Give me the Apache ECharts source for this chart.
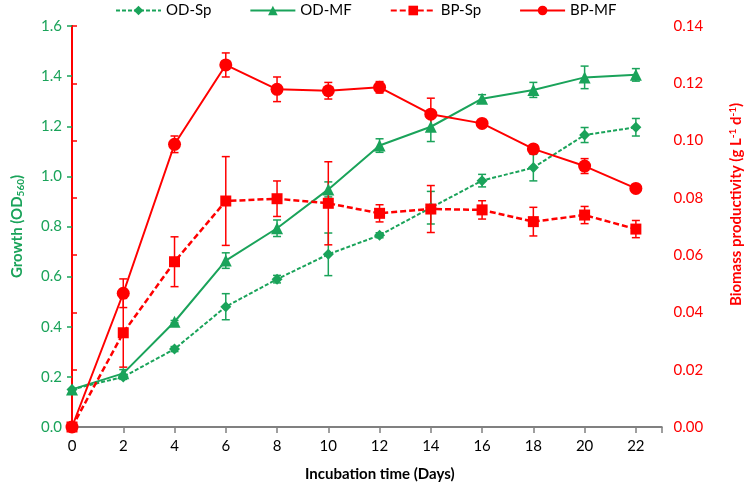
<!DOCTYPE html>
<html><head><meta charset="utf-8">
<script src="https://cdn.jsdelivr.net/npm/echarts@6/dist/echarts.min.js"></script>
<style>html,body{margin:0;padding:0;background:#fff}#c{width:752px;height:496px}</style>
</head><body><div id="c"></div>
<script>
const days = [0,2,4,6,8,10,12,14,16,18,20,22];
const odSp = [0.15,0.20,0.311,0.48,0.59,0.689,0.765,0.875,0.983,1.035,1.165,1.196];
const odSpErr = [0,0.01,0.01,0.052,0.015,0.085,0.01,0.065,0.025,0.053,0.03,0.035];
const odMf = [0.15,0.214,0.42,0.664,0.793,0.948,1.123,1.198,1.31,1.345,1.395,1.405];
const odMfErr = [0,0.015,0.005,0.031,0.033,0.03,0.027,0.059,0.016,0.03,0.045,0.025];
const bpSp = [0,0.0329,0.0577,0.0789,0.0797,0.0781,0.0746,0.0761,0.0758,0.0717,0.074,0.0691];
const bpSpErr = [0,0.012,0.0087,0.0155,0.0062,0.0145,0.003,0.0082,0.0032,0.005,0.003,0.003];
const bpMf = [0,0.0467,0.0987,0.1264,0.1179,0.1174,0.1186,0.1092,0.106,0.0971,0.0911,0.0833];
const bpMfErr = [0,0.005,0.0029,0.0042,0.0043,0.0029,0.002,0.0056,0,0.0012,0.0026,0];

const GREEN = '#1aa35a', RED = '#ff0000';
const FONT = 'Lato';

function pts(v){ return days.map((d,i)=>[d, v[i]]); }
function errPts(v,e){ return days.map((d,i)=>[d, v[i]-e[i], v[i]+e[i]]).filter((p,i)=>e[i]>0); }
function errSeries(name, v, e, color, yi){
  return {
    type:'custom', name:name, yAxisIndex:yi, z:3,
    data: errPts(v,e),
    encode:{x:0, y:[1,2]},
    renderItem:function(params, api){
      const x=api.value(0), lo=api.value(1), hi=api.value(2);
      const a=api.coord([x,lo]), b=api.coord([x,hi]); const w=4;
      const st={stroke:color, lineWidth:1.5};
      return {type:'group', children:[
        {type:'line', shape:{x1:a[0],y1:a[1],x2:b[0],y2:b[1]}, style:st},
        {type:'line', shape:{x1:a[0]-w,y1:a[1],x2:a[0]+w,y2:a[1]}, style:st},
        {type:'line', shape:{x1:b[0]-w,y1:b[1],x2:b[0]+w,y2:b[1]}, style:st}
      ]};
    },
    silent:true
  };
}

const chart = echarts.init(document.getElementById('c'));
chart.setOption({
  animation:false,
  textStyle:{fontFamily:FONT},
  legend:{
    top:-2, left:110, itemWidth:45, itemHeight:12, itemGap:38,
    data:['OD-Sp','OD-MF','BP-Sp','BP-MF'],
    textStyle:{fontFamily:FONT, fontSize:15, color:'#000'}
  },
  grid:{left:72, right:90, top:26, bottom:69, containLabel:false},
  xAxis:[{
    type:'value', min:0, max:23, interval:2,
    axisLine:{show:true, lineStyle:{color:'#808080', width:2}},
    axisTick:{show:true, length:6, lineStyle:{color:'#808080', width:1.5}},
    axisLabel:{color:'#000', fontSize:15, margin:12, fontFamily:FONT,
      formatter:function(v){ return v===23 ? '' : String(v); }},
    splitLine:{show:false},
    name:'Incubation time (Days)', nameLocation:'middle', nameGap:40,
    nameTextStyle:{fontWeight:'bold', fontSize:15, color:'#000', fontFamily:FONT, padding:[0,0,0,26]}
  },{
    type:'value', position:'top', min:0, max:23,
    axisLine:{show:true, lineStyle:{color:'#808080', width:2}},
    axisTick:{show:false}, axisLabel:{show:false}, splitLine:{show:false}
  }],
  yAxis:[{
    type:'value', min:0, max:1.6, interval:0.2, position:'left',
    axisLine:{show:true, lineStyle:{color:GREEN, width:2}},
    axisTick:{show:true, length:5, lineStyle:{color:GREEN, width:1.5}},
    axisLabel:{color:GREEN, fontSize:15, margin:10, fontFamily:FONT,
      formatter:function(v){ return v.toFixed(1); }},
    splitLine:{show:false},
    name:'{a|Growth (OD}{s|560}{a|)}', nameLocation:'middle', nameGap:46, nameRotate:90,
    nameTextStyle:{rich:{
      a:{fontWeight:'bold', fontSize:15, color:GREEN, fontFamily:FONT, lineHeight:18},
      s:{fontWeight:'bold', fontSize:10, color:GREEN, fontFamily:FONT, lineHeight:18, verticalAlign:'bottom', padding:[6,0,0,0]}
    }}
  },{
    type:'value', min:0, max:0.14, interval:0.02, position:'right',
    axisLine:{show:true, lineStyle:{color:RED, width:2}},
    axisTick:{show:true, length:5, lineStyle:{color:RED, width:1.5}},
    axisLabel:{color:RED, fontSize:15, margin:12, fontFamily:FONT,
      formatter:function(v){ return v.toFixed(2); }},
    splitLine:{show:false},
    name:'{a|Biomass productivity (g L}{p|-1}{a| d}{p|-1}{a|)}', nameLocation:'middle', nameGap:66, nameRotate:90,
    nameTextStyle:{padding:[0,0,0,44], rich:{
      a:{fontWeight:'bold', fontSize:15, color:RED, fontFamily:FONT, lineHeight:18},
      p:{fontWeight:'bold', fontSize:10, color:RED, fontFamily:FONT, lineHeight:18, verticalAlign:'top', padding:[0,0,6,0]}
    }}
  }],
  series:[
    errSeries('e1', odSp, odSpErr, GREEN, 0),
    errSeries('e2', odMf, odMfErr, GREEN, 0),
    errSeries('e3', bpSp, bpSpErr, RED, 1),
    errSeries('e4', bpMf, bpMfErr, RED, 1),
    {name:'OD-Sp', type:'line', yAxisIndex:0, data:pts(odSp), symbol:'diamond', symbolSize:11,
      lineStyle:{color:GREEN, width:2, type:[4,2]}, itemStyle:{color:GREEN}, z:4},
    {name:'OD-MF', type:'line', yAxisIndex:0, data:pts(odMf), symbol:'triangle', symbolSize:12,
      lineStyle:{color:GREEN, width:2}, itemStyle:{color:GREEN}, z:4},
    {name:'BP-Sp', type:'line', yAxisIndex:1, data:pts(bpSp), symbol:'rect', symbolSize:11,
      lineStyle:{color:RED, width:2.5, type:[6,3]}, itemStyle:{color:RED}, z:4},
    {name:'BP-MF', type:'line', yAxisIndex:1, data:pts(bpMf), symbol:'circle', symbolSize:13,
      lineStyle:{color:RED, width:2}, itemStyle:{color:RED}, z:4}
  ]
});
</script></body></html>
